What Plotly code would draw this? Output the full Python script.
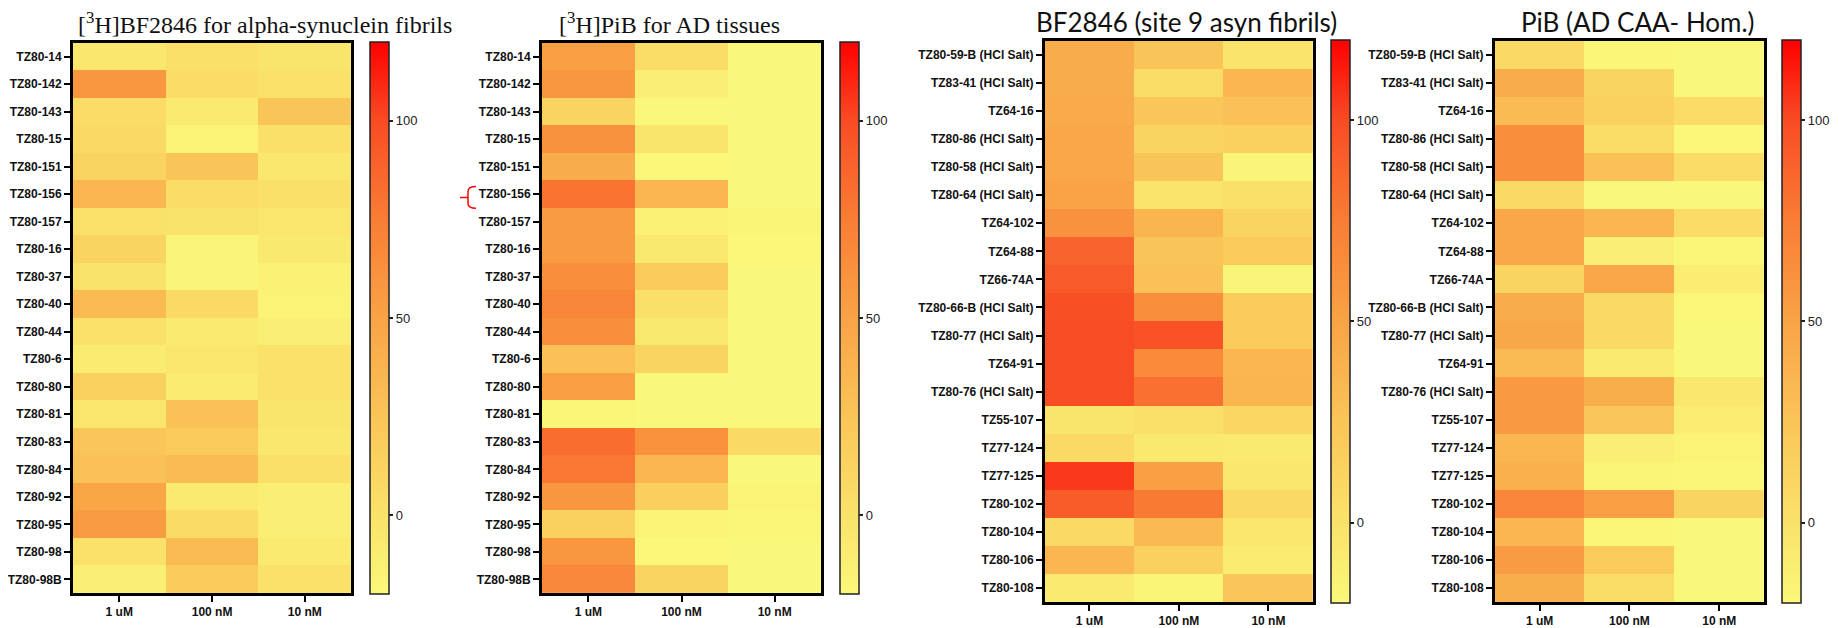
import plotly.graph_objects as go

# page body has an 8px margin; figure fills the remaining window
OFF = 8
W, H = 1839 - OFF, 628 - OFF

concs = ["1 uM", "100 nM", "10 nM"]

rows_a = ["TZ80-14", "TZ80-142", "TZ80-143", "TZ80-15", "TZ80-151", "TZ80-156", "TZ80-157",
          "TZ80-16", "TZ80-37", "TZ80-40", "TZ80-44", "TZ80-6", "TZ80-80", "TZ80-81",
          "TZ80-83", "TZ80-84", "TZ80-92", "TZ80-95", "TZ80-98", "TZ80-98B"]

rows_b = ["TZ80-59-B (HCl Salt)", "TZ83-41 (HCl Salt)", "TZ64-16", "TZ80-86 (HCl Salt)",
          "TZ80-58 (HCl Salt)", "TZ80-64 (HCl Salt)", "TZ64-102", "TZ64-88", "TZ66-74A",
          "TZ80-66-B (HCl Salt)", "TZ80-77 (HCl Salt)", "TZ64-91", "TZ80-76 (HCl Salt)",
          "TZ55-107", "TZ77-124", "TZ77-125", "TZ80-102", "TZ80-104", "TZ80-106", "TZ80-108"]

# [3H]BF2846 for alpha-synuclein fibrils  (1 uM, 100 nM, 10 nM)
bf_asyn = [
    [-5, 2, -3], [58, 5, 0], [5, -8, 25], [8, -15, 2], [12, 25, -5],
    [35, 5, 3], [0, -1, -4], [12, -17, -6], [-1, -17, -14], [32, 8, -15],
    [0, -8, -12], [-9, -4, 0], [15, -9, 0], [-4, 28, -3], [24, 20, -5],
    [28, 32, 3], [48, -7, -12], [55, 6, -12], [0, 32, -8], [-12, 20, 0],
]

# [3H]PiB for AD tissues
pib_ad = [
    [52, 4, -20], [58, -12, -20], [12, -20, -20], [61, -3, -20], [43, -19, -20],
    [80, 35, -20], [55, -14, -16], [55, -6, -19], [63, 20, -20], [70, 3, -20],
    [64, -6, -20], [28, 12, -20], [52, -20, -20], [-18, -20, -20], [83, 62, 7],
    [78, 36, -20], [58, 16, -15], [15, -15, -18], [58, -19, -20], [67, 12, -20],
]

# BF2846 (site 9 asyn fibrils)
bf_site9 = [
    [43, 25, -2], [43, 4, 35], [45, 24, 27], [47, 12, 15], [47, 25, -17],
    [50, -2, 3], [61, 37, 12], [88, 25, 20], [93, 28, -17], [98, 64, 20],
    [100, 97, 20], [100, 66, 35], [100, 82, 37], [-3, 3, 10], [8, -6, -7],
    [105, 52, -5], [92, 76, 8], [8, 34, -4], [35, 15, -9], [-8, -16, 24],
]

# PiB (AD CAA- Hom.)
pib_caa = [
    [8, -18, -20], [43, 12, -20], [32, 15, 5], [63, 4, -19], [63, 28, 5],
    [8, -20, -20], [47, 35, 5], [47, -12, -18], [12, 47, -10], [43, 8, -19],
    [46, 8, -20], [32, -8, -20], [56, 42, -5], [56, 24, -10], [35, -12, -15],
    [40, -16, -18], [70, 52, 12], [36, -18, -20], [55, 20, -20], [42, 4, -20],
]

zmin, zmax = -20, 120
cbar_ticks = [0, 50, 100]

colorscale = [
    [0.0, "rgb(250,248,122)"],
    [0.143, "rgb(250,226,106)"],
    [0.32, "rgb(250,197,88)"],
    [0.5, "rgb(249,163,70)"],
    [0.68, "rgb(249,125,52)"],
    [0.857, "rgb(248,76,36)"],
    [1.0, "rgb(255,0,0)"],
]

# positions in window pixels (reference coordinates)
panels = [
    dict(z=bf_asyn, rows=rows_a, x0=69, x1=348, y0=43, y1=595, cb=367),
    dict(z=pib_ad, rows=rows_a, x0=539, x1=819, y0=43, y1=595, cb=838),
    dict(z=bf_site9, rows=rows_b, x0=1043, x1=1312, y0=41, y1=604, cb=1330),
    dict(z=pib_caa, rows=rows_b, x0=1494, x1=1764, y0=41, y1=604, cb=1782),
]


def px(x):
    return (x - OFF) / W


def py(y):
    return 1 - (y - OFF) / H


fig = go.Figure()
layout = dict(
    width=W, height=H, margin=dict(l=0, r=0, t=0, b=0),
    paper_bgcolor="white", plot_bgcolor="white", showlegend=False,
)

tick_font = dict(family="Liberation Sans, Arial", size=12, color="#111", weight="bold")

for i, p in enumerate(panels):
    n = i + 1
    xa = "x" if n == 1 else f"x{n}"
    ya = "y" if n == 1 else f"y{n}"
    ca = "coloraxis" if n == 1 else f"coloraxis{n}"
    fig.add_trace(go.Heatmap(
        z=p["z"], x=concs, y=p["rows"], coloraxis=ca, xaxis=xa, yaxis=ya,
        xgap=0, ygap=0,
    ))
    axis_common = dict(
        showline=True, linecolor="black", linewidth=2.5, mirror=True,
        ticks="outside", ticklen=6, tickwidth=2, tickcolor="black",
        showgrid=False, zeroline=False, tickfont=tick_font,
    )
    layout["xaxis" if n == 1 else f"xaxis{n}"] = dict(
        axis_common, domain=[px(p["x0"]), px(p["x1"])], anchor=ya,
    )
    layout["yaxis" if n == 1 else f"yaxis{n}"] = dict(
        axis_common, domain=[py(p["y1"]), py(p["y0"])], anchor=xa,
        autorange="reversed",
    )
    layout[ca] = dict(
        cmin=zmin, cmax=zmax, colorscale=colorscale,
        colorbar=dict(
            x=px(p["cb"]), xanchor="left", xpad=0, ypad=0,
            y=py((p["y0"] + p["y1"]) / 2), yanchor="middle",
            len=p["y1"] - p["y0"], lenmode="pixels",
            thickness=19, thicknessmode="pixels",
            outlinecolor="#222", outlinewidth=1.5,
            tickvals=cbar_ticks, ticks="outside", ticklen=4, tickwidth=1.5,
            tickcolor="#222",
            tickfont=dict(family="Liberation Sans, Arial", size=13, color="#222"),
        ),
    )

fig.update_layout(**layout)

titles = [
    ("[<sup>3</sup>H]BF2846 for alpha-synuclein fibrils", 262, 23, "Liberation Serif, Times New Roman", 24),
    ("[<sup>3</sup>H]PiB for AD tissues", 667, 23, "Liberation Serif, Times New Roman", 24),
    ("BF2846 (site 9 asyn fibrils)", 1185, 22, "Lato, Carlito, sans-serif", 26),
    ("PiB (AD CAA- Hom.)", 1638, 22, "Lato, Carlito, sans-serif", 26),
]
for text, cx, cy, fam, sz in titles:
    fig.add_annotation(
        text=text, x=px(cx), y=py(cy), xref="paper", yref="paper",
        xanchor="center", yanchor="middle", showarrow=False, borderpad=0,
        font=dict(family=fam, size=sz, color="#111"),
    )

# red bracket marking TZ80-156 in the PiB panel
bracket = (f"M {px(473)} {py(187)} Q {px(465)} {py(187)} {px(465)} {py(192)} "
           f"L {px(465)} {py(204)} Q {px(465)} {py(209)} {px(473)} {py(209)} "
           f"M {px(457)} {py(198)} L {px(465)} {py(198)}")
fig.add_shape(type="path", path=bracket, xref="paper", yref="paper",
              line=dict(color="red", width=1.5))

fig.write_html("out.html")
